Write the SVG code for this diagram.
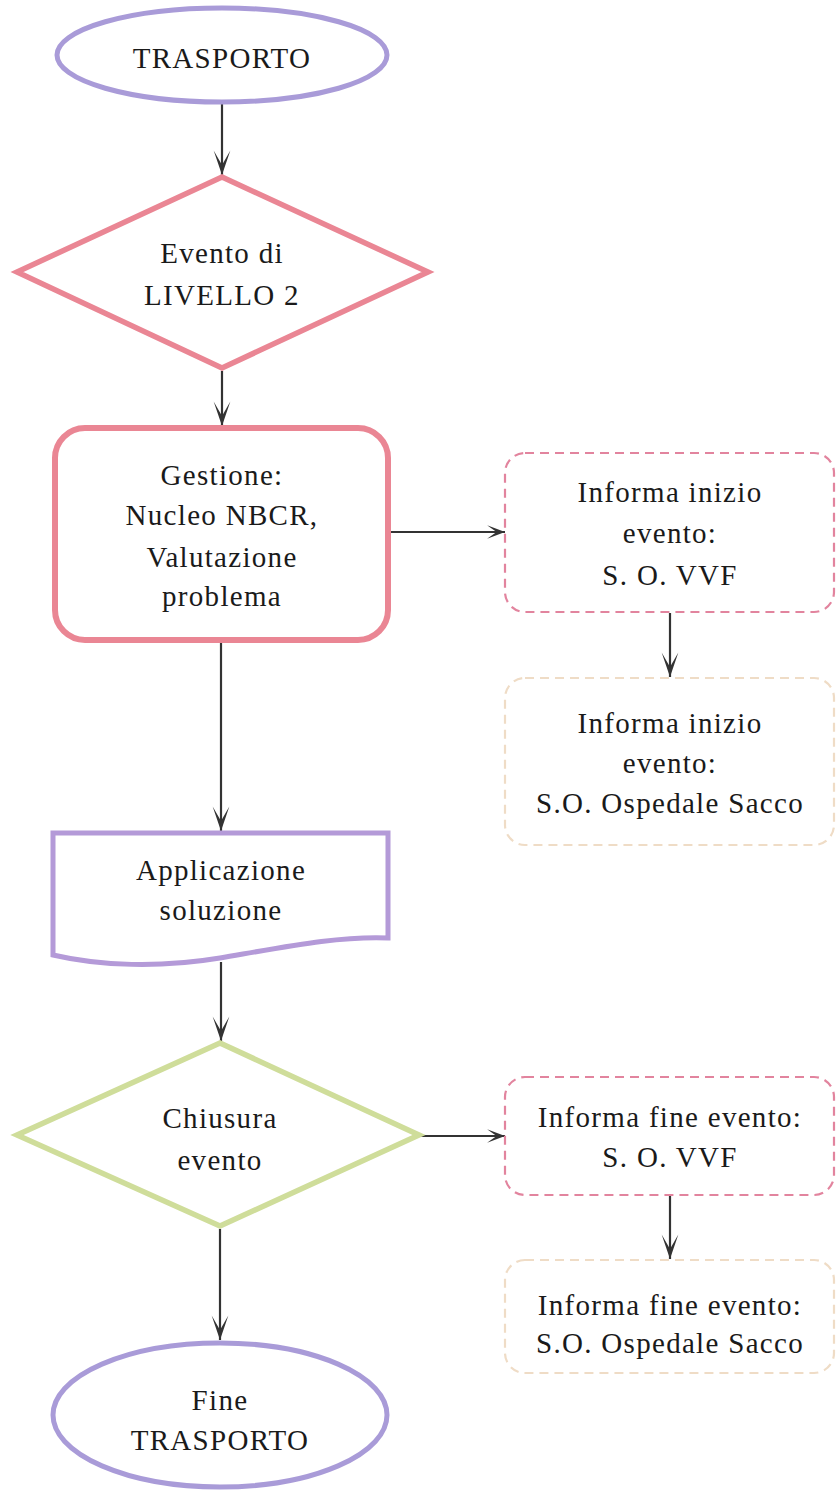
<svg xmlns="http://www.w3.org/2000/svg" width="836" height="1490" viewBox="0 0 836 1490">
<style>
text{font-family:"Liberation Serif","Times New Roman",serif;font-size:29px;fill:#1a1a1a;text-anchor:middle;letter-spacing:1.3px}
.term{fill:#fff;stroke:#a99bd8;stroke-width:5}
.dec1{fill:#fff;stroke:#ea8694;stroke-width:5.5;stroke-linejoin:miter}
.dec2{fill:#fff;stroke:#cfdd9a;stroke-width:5.5;stroke-linejoin:miter}
.proc{fill:#fff;stroke:#ea8694;stroke-width:6}
.doc{fill:#fff;stroke:#b49ad8;stroke-width:5}
.dashA{fill:#fff;stroke:#e2849e;stroke-width:2.2;stroke-dasharray:9 6}
.dashB{fill:#fff;stroke:#efdcc6;stroke-width:2.2;stroke-dasharray:9 6}
.conn line{stroke:#333;stroke-width:2.2}
.v{marker-end:url(#ahv)}
.h{marker-end:url(#ahh)}
</style>
<defs>
<marker id="ahv" markerUnits="userSpaceOnUse" markerWidth="30" markerHeight="20" viewBox="-23 -9 25 18" refX="0" refY="0" orient="auto">
<path d="M0,0 L-22,-7.5 L-9,0 L-22,7.5 Z" fill="#333"/>
</marker>
<marker id="ahh" markerUnits="userSpaceOnUse" markerWidth="20" markerHeight="16" viewBox="-18 -7 19 14" refX="0" refY="0" orient="auto">
<path d="M0,0 L-17,-6.5 L-8,0 L-17,6.5 Z" fill="#333"/>
</marker>
</defs>
<rect width="836" height="1490" fill="#fff"/>
<g class="conn" id="connectors">
<line class="v" x1="222" y1="104" x2="222" y2="175"/>
<line class="v" x1="222" y1="371" x2="222" y2="426"/>
<line class="h" x1="389" y1="532" x2="505" y2="532"/>
<line class="v" x1="670" y1="613" x2="670" y2="677"/>
<line class="v" x1="221" y1="643" x2="221" y2="831"/>
<line class="v" x1="221" y1="962" x2="221" y2="1041"/>
<line class="h" x1="421" y1="1136" x2="505" y2="1136"/>
<line class="v" x1="670" y1="1196" x2="670" y2="1259"/>
<line class="v" x1="220" y1="1229" x2="220" y2="1340"/>
</g>
<g id="start">
<ellipse class="term" cx="222" cy="55" rx="165" ry="47"/>
<text x="222" y="68">TRASPORTO</text>
</g>
<g id="evento-livello">
<polygon class="dec1" points="222,177 428,272 222,368 17,272"/>
<text x="222" y="263">Evento di</text>
<text x="222" y="305">LIVELLO 2</text>
</g>
<g id="gestione">
<rect class="proc" x="55" y="428" width="333" height="212" rx="30" ry="30"/>
<text x="222" y="485">Gestione:</text>
<text x="222" y="525">Nucleo NBCR,</text>
<text x="222" y="567">Valutazione</text>
<text x="222" y="606">problema</text>
</g>
<g id="informa-inizio-vvf">
<rect class="dashA" x="505" y="453" width="329" height="159" rx="20" ry="20"/>
<text x="670" y="502">Informa inizio</text>
<text x="670" y="543">evento:</text>
<text x="670" y="585">S. O. VVF</text>
</g>
<g id="informa-inizio-sacco">
<rect class="dashB" x="505" y="678" width="329" height="167" rx="20" ry="20"/>
<text x="670" y="733">Informa inizio</text>
<text x="670" y="773">evento:</text>
<text x="670" y="813">S.O. Ospedale Sacco</text>
</g>
<g id="applicazione">
<path class="doc" d="M53,833 H388 V938 C340,936 290,946 220,958 C160,968 100,966 53,955 Z"/>
<text x="221" y="880">Applicazione</text>
<text x="221" y="920">soluzione</text>
</g>
<g id="chiusura">
<polygon class="dec2" points="220,1043 419,1135 220,1226 17,1135"/>
<text x="220" y="1128">Chiusura</text>
<text x="220" y="1170">evento</text>
</g>
<g id="informa-fine-vvf">
<rect class="dashA" x="505" y="1077" width="329" height="118" rx="20" ry="20"/>
<text x="670" y="1127">Informa fine evento:</text>
<text x="670" y="1167">S. O. VVF</text>
</g>
<g id="informa-fine-sacco">
<rect class="dashB" x="505" y="1260" width="329" height="113" rx="20" ry="20"/>
<text x="670" y="1315">Informa fine evento:</text>
<text x="670" y="1353">S.O. Ospedale Sacco</text>
</g>
<g id="end">
<ellipse class="term" cx="220" cy="1415" rx="167" ry="72"/>
<text x="220" y="1410">Fine</text>
<text x="220" y="1450">TRASPORTO</text>
</g>
</svg>
